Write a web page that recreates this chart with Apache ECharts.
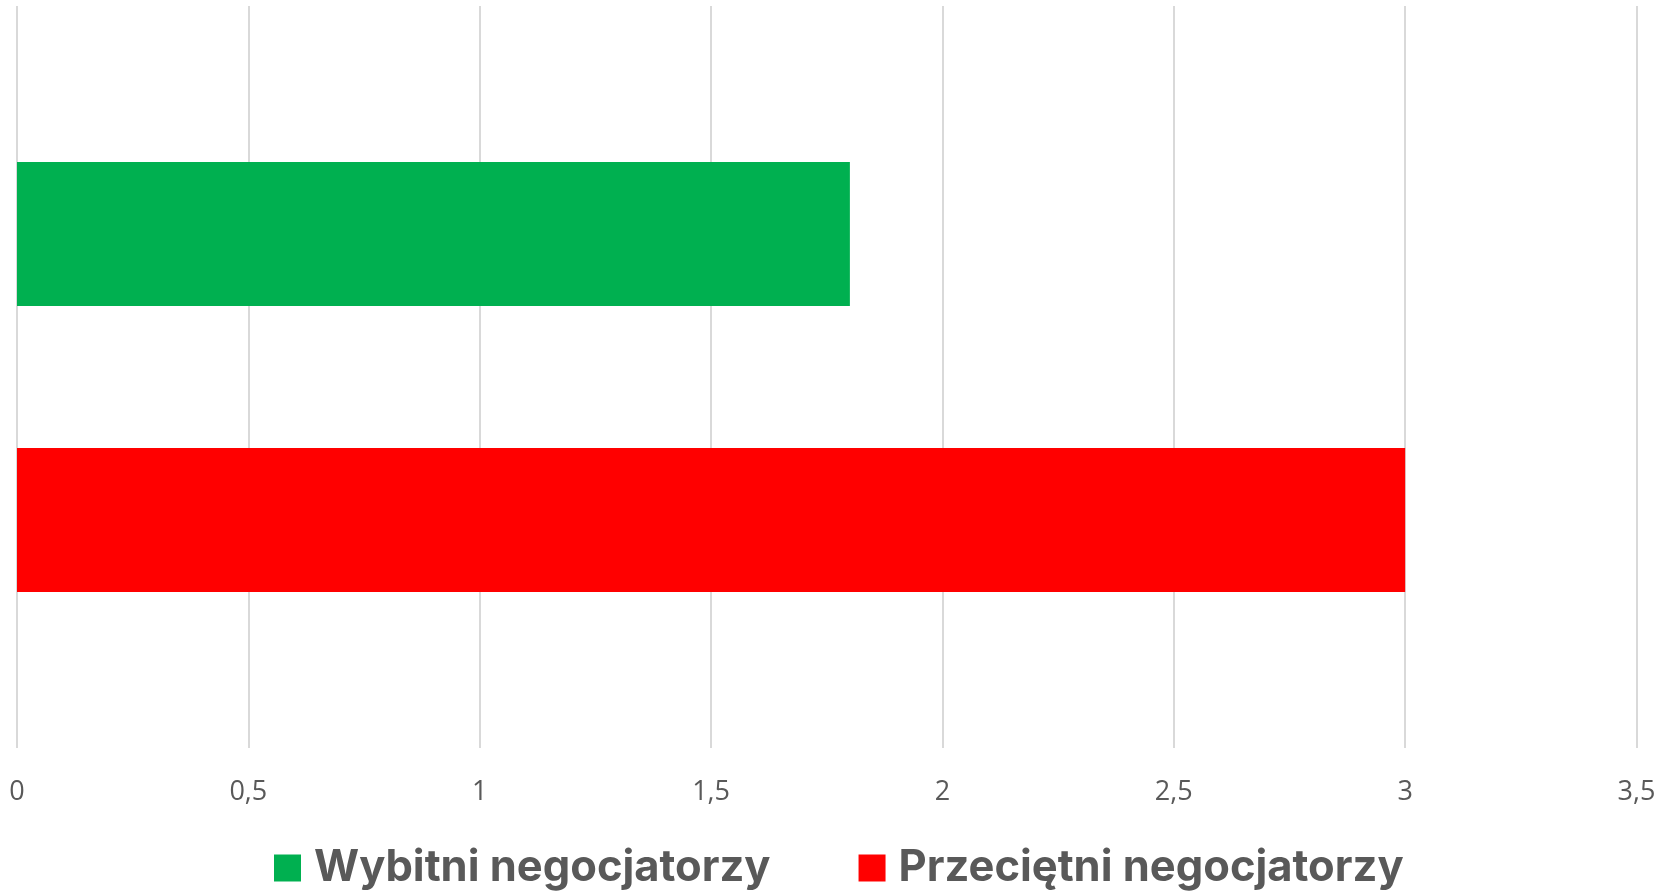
<!DOCTYPE html>
<html>
<head>
<meta charset="utf-8">
<script src="https://cdn.jsdelivr.net/npm/echarts@6/dist/echarts.min.js"></script>
<style>
  html, body { margin: 0; padding: 0; background: #ffffff; }
  #chart { width: 1665px; height: 891px; }
</style>
</head>
<body>
<div id="chart"></div>
<script>
// Average number of concessions per negotiation group
const categories = ['Wybitni negocjatorzy', 'Przeciętni negocjatorzy'];
const values = [1.8, 3.0];
const colors = ['#00B050', '#FF0000'];
const xTicks = { min: 0, max: 3.5, step: 0.5 };

const chart = echarts.init(document.getElementById('chart'));

// One series per group; each series only fills its own category row.
// The second group is listed first so that both bars sit toward the middle.
const seriesOrder = [1, 0];
const series = seriesOrder.map(function (i) {
  return {
    name: categories[i],
    type: 'bar',
    data: categories.map(function (c, j) { return j === i ? values[i] : '-'; }),
    itemStyle: { color: colors[i] },
    barWidth: 144,
    barGap: '-41%'
  };
});

chart.setOption({
  animation: false,
  backgroundColor: '#ffffff',
  grid: { left: 17, right: 28.5, top: 6, bottom: 143, containLabel: false },
  xAxis: {
    type: 'value',
    min: xTicks.min,
    max: xTicks.max,
    interval: xTicks.step,
    axisLine: { show: false },
    axisTick: { show: false },
    splitLine: { show: true, lineStyle: { color: '#d9d9d9', width: 2 } },
    axisLabel: {
      color: '#595959',
      fontFamily: 'Open Sans',
      fontSize: 27,
      margin: 31,
      formatter: function (v) { return String(v).replace('.', ','); }
    }
  },
  yAxis: {
    type: 'category',
    inverse: true,
    data: categories,
    axisLine: { show: false },
    axisTick: { show: false },
    axisLabel: { show: false },
    splitLine: { show: false }
  },
  legend: {
    data: categories,
    left: 269,
    top: 841,
    icon: 'rect',
    itemWidth: 27,
    itemHeight: 27,
    itemGap: 88,
    textStyle: {
      color: '#595959',
      fontFamily: 'Inter',
      fontWeight: 700,
      fontSize: 43.5,
      lineHeight: 44,
      padding: [0, 0, 0, 8]
    }
  },
  series: series
});
</script>
</body>
</html>
